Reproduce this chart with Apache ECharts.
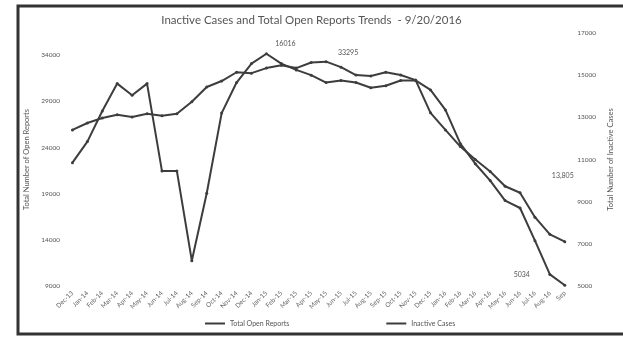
<!DOCTYPE html>
<html>
<head>
<meta charset="utf-8">
<script src="https://cdn.jsdelivr.net/npm/echarts@6/dist/echarts.min.js"></script>
<style>
  html, body { margin: 0; padding: 0; background: #fff; }
  #chart { width: 623px; height: 342px; }
</style>
</head>
<body>
<div id="chart"></div>
<script>
const months = ['Dec-13', 'Jan-14', 'Feb-14', 'Mar-14', 'Apr-14', 'May-14', 'Jun-14', 'Jul-14', 'Aug-14', 'Sep-14',
    'Oct-14', 'Nov-14', 'Dec-14', 'Jan-15', 'Feb-15', 'Mar-15', 'Apr-15', 'May-15', 'Jun-15', 'Jul-15',
    'Aug-15', 'Sep-15', 'Oct-15', 'Nov-15', 'Dec-15', 'Jan-16', 'Feb-16', 'Mar-16', 'Apr-16', 'May-16',
    'Jun-16', 'Jul-16', 'Aug-16', 'Sep'];

const totalOpen = [25900, 26650, 27200, 27550, 27300, 27650, 27450, 27650, 28950, 30550,
    31200, 32150, 32050, 32600, 32900, 32600, 33200, 33295, 32700, 31850,
    31750, 32150, 31850, 31300, 27750, 25900, 24100, 22700, 21400, 19800,
    19100, 16450, 14600, 13805];

const inactive = [10850, 11850, 13300, 14600, 14050, 14600, 10450, 10450, 6200, 9400,
    13200, 14650, 15550, 16016, 15550, 15250, 15000, 14650, 14750, 14650,
    14400, 14500, 14750, 14750, 14300, 13350, 11750, 10800, 10000, 9050,
    8700, 7150, 5550, 5034];

// callout text keyed by point index
const openNotes = { 17: '33295', 33: '13,805' };
const inactiveNotes = { 13: '16016', 33: '5034' };

const noteOffset = { open17: [22, 1], open33: [-2, -56], inactive13: [19, 0], inactive33: [-43, -1] };

const lineColor = '#3d3d3d';
const font = 'Lato';

const withNotes = (values, notes, key) => values.map((v, i) => {
    if (!notes[i]) return v;
    return {
        value: v,
        label: {
            show: true,
            formatter: notes[i],
            position: 'top',
            offset: noteOffset[key + i],
            fontSize: 7,
            fontFamily: font,
            color: '#555'
        }
    };
});

const chart = echarts.init(document.getElementById('chart'));
chart.setOption({
    animation: false,
    backgroundColor: '#fff',
    title: {
        text: 'Inactive Cases and Total Open Reports Trends  - 9/20/2016',
        left: 'center',
        top: 9,
        textStyle: {
            fontSize: 11.5,
            fontWeight: 'normal',
            fontFamily: font,
            color: '#555'
        }
    },
    grid: {
        left: 65,
        right: 38,
        top: 33,
        bottom: 56
    },
    legend: {
        bottom: 10,
        left: 200,
        itemGap: 97,
        itemWidth: 20,
        itemHeight: 2,
        icon: 'rect',
        textStyle: {
            fontSize: 7,
            fontFamily: font,
            color: '#555'
        },
        data: ['Total Open Reports', 'Inactive Cases']
    },
    xAxis: {
        type: 'category',
        data: months,
        boundaryGap: true,
        axisLine: { show: false },
        axisTick: { show: false },
        axisLabel: {
            rotate: 45,
            interval: 0,
            fontSize: 6.5,
            fontFamily: font,
            color: '#666',
            margin: 6
        }
    },
    yAxis: [
        {
            type: 'value',
            min: 9000,
            max: 36400,
            interval: 5000,
            name: 'Total Number of Open Reports',
            nameLocation: 'middle',
            nameGap: 32,
            nameTextStyle: { fontSize: 7.5, fontFamily: font, color: '#555' },
            axisLine: { show: false },
            axisTick: { show: false },
            splitLine: { show: false },
            axisLabel: {
                fontSize: 6.5,
                fontFamily: font,
                color: '#555',
                margin: 5,
                showMaxLabel: false,
                formatter: v => (v % 5000 === 4000 ? String(v) : '')
            }
        },
        {
            type: 'value',
            min: 5000,
            max: 17000,
            interval: 2000,
            position: 'right',
            name: 'Total Number of Inactive Cases',
            nameLocation: 'middle',
            nameGap: 30,
            nameRotate: 90,
            nameTextStyle: { fontSize: 7.5, fontFamily: font, color: '#555' },
            axisLine: { show: false },
            axisTick: { show: false },
            splitLine: { show: false },
            axisLabel: {
                fontSize: 6.5,
                fontFamily: font,
                color: '#555',
                margin: 5,
                formatter: v => String(v)
            }
        }
    ],
    series: [
        {
            name: 'Total Open Reports',
            type: 'line',
            yAxisIndex: 0,
            data: withNotes(totalOpen, openNotes, 'open'),
            symbol: 'circle',
            symbolSize: 3,
            lineStyle: { color: lineColor, width: 2 },
            itemStyle: { color: lineColor }
        },
        {
            name: 'Inactive Cases',
            type: 'line',
            yAxisIndex: 1,
            data: withNotes(inactive, inactiveNotes, 'inactive'),
            symbol: 'circle',
            symbolSize: 3,
            lineStyle: { color: lineColor, width: 2 },
            itemStyle: { color: lineColor }
        }
    ],
    graphic: [
        {
            type: 'polyline',
            silent: true,
            shape: { points: [[623, 6], [18, 6], [18, 334], [623, 334]] },
            style: { stroke: '#333', lineWidth: 3, fill: null }
        }
    ]
});
</script>
</body>
</html>
